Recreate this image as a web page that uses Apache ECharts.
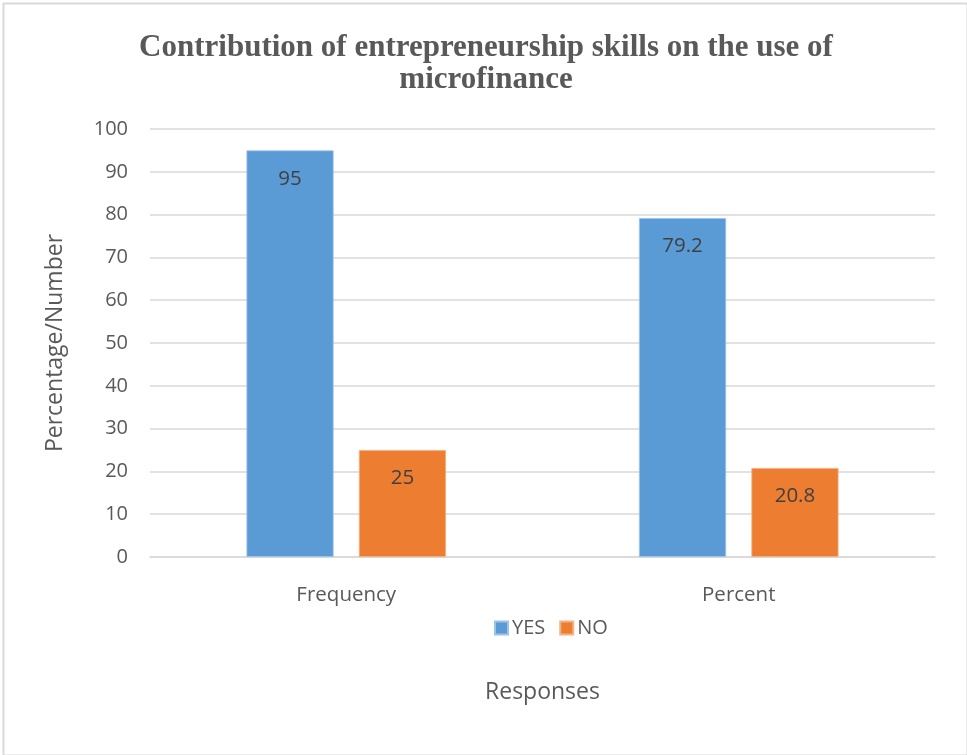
<!DOCTYPE html>
<html><head><meta charset="utf-8">
<script src="https://cdn.jsdelivr.net/npm/echarts@6/dist/echarts.min.js"></script>
<style>html,body{margin:0;padding:0;background:#fff}#c{width:967px;height:755px}</style>
</head><body><div id="c"></div>
<script>
const categories = ['Frequency', 'Percent'];
const yesValues = [95, 79.2];
const noValues = [25, 20.8];
const seriesNames = ['YES', 'NO'];

const chart = echarts.init(document.getElementById('c'));
const labelFont = '"Open Sans", "Liberation Sans", sans-serif';
chart.setOption({
  animation: false,
  backgroundColor: '#fff',
  graphic: [{
    type: 'rect', left: 1, top: 1, silent: true,
    shape: { width: 964, height: 752 },
    style: { fill: 'none', stroke: '#d9d9d9', lineWidth: 2 }
  }],
  title: {
    text: 'Contribution of entrepreneurship skills on the use of\nmicrofinance',
    left: 481, top: 27, textAlign: 'center',
    textStyle: { fontFamily: '"Liberation Serif", "DejaVu Serif", serif', fontWeight: 'bold', fontSize: 31, color: '#595959', lineHeight: 32 }
  },
  legend: {
    data: seriesNames, top: 613, left: 489,
    itemWidth: 13, itemHeight: 13, itemGap: 14, icon: 'rect',
    textStyle: { fontFamily: labelFont, fontSize: 20, color: '#595959', padding: [0, 0, 0, -1] }
  },
  grid: { left: 150, right: 32, top: 129, bottom: 198, containLabel: false },
  xAxis: {
    type: 'category', data: categories,
    name: 'Responses', nameLocation: 'middle', nameGap: 124,
    nameTextStyle: { fontFamily: labelFont, fontSize: 23, color: '#595959' },
    axisLine: { lineStyle: { color: '#d9d9d9', width: 1.5 } },
    axisTick: { show: false },
    axisLabel: { fontFamily: labelFont, fontSize: 20.5, color: '#595959', margin: 28 }
  },
  yAxis: {
    type: 'value', min: 0, max: 100, interval: 10,
    name: 'Percentage/Number', nameLocation: 'middle', nameGap: 83, nameRotate: 90,
    nameTextStyle: { fontFamily: labelFont, fontSize: 23, color: '#595959' },
    axisLine: { show: false }, axisTick: { show: false },
    axisLabel: { fontFamily: labelFont, fontSize: 20, color: '#595959', margin: 22 },
    splitLine: { lineStyle: { color: '#d9d9d9', width: 1.5 } }
  },
  series: [
    { name: seriesNames[0], type: 'bar', data: yesValues, barWidth: '22.2%', barGap: '29%',
      itemStyle: { color: '#5b9bd5', borderColor: '#9dc3e6', borderWidth: 0.8 },
      label: { show: true, position: 'insideTop', distance: 18, fontFamily: labelFont, fontSize: 20.5, color: '#404040' } },
    { name: seriesNames[1], type: 'bar', data: noValues, barWidth: '22.2%',
      itemStyle: { color: '#ed7d31', borderColor: '#f4b183', borderWidth: 0.8 },
      label: { show: true, position: 'insideTop', distance: 18, fontFamily: labelFont, fontSize: 20.5, color: '#404040' } }
  ]
});
</script></body></html>
